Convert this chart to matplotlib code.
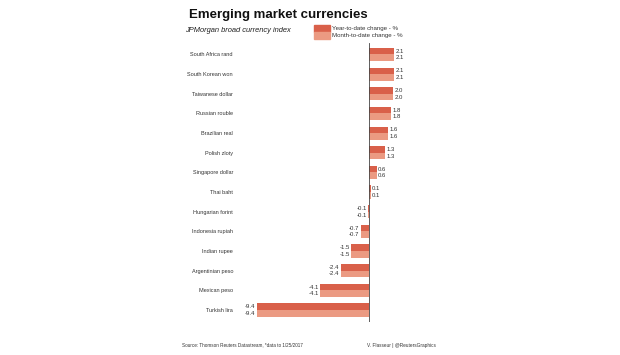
import matplotlib.pyplot as plt
import numpy as np

currencies = ["South Africa rand", "South Korean won", "Taiwanese dollar",
              "Russian rouble", "Brazilian real", "Polish zloty",
              "Singapore dollar", "Thai baht", "Hungarian forint",
              "Indonesia rupiah", "Indian rupee", "Argentinian peso",
              "Mexican peso", "Turkish lira"]
ytd = [2.1, 2.1, 2.0, 1.8, 1.6, 1.3, 0.6, 0.1, -0.1, -0.7, -1.5, -2.4, -4.1, -9.4]
mtd = [2.1, 2.1, 2.0, 1.8, 1.6, 1.3, 0.6, 0.1, -0.1, -0.7, -1.5, -2.4, -4.1, -9.4]

dark = '#d9604a'
light = '#eb9a82'
plt.rcParams['font.family'] = ['Liberation Sans', 'DejaVu Sans']

W, H = 620, 355
fig = plt.figure(figsize=(6.2, 3.55), dpi=100)
fig.patch.set_facecolor('white')

# axes placed in pixel terms: left 233, right 440, top 43, bottom 322
ax = fig.add_axes([233 / W, 1 - 322 / H, (440 - 233) / W, (322 - 43) / H])
ax.set_xlim(-11.38, 5.90)
ax.set_ylim(13.61, -0.585)

y = np.arange(len(currencies))
h = 0.335
ax.barh(y - h / 2, ytd, height=h, color=dark, edgecolor='none')
ax.barh(y + h / 2, mtd, height=h, color=light, edgecolor='none')
ax.axvline(0, color='#444444', lw=0.6)

for i in range(len(currencies)):
    for v, off in ((ytd[i], -h / 2), (mtd[i], h / 2)):
        if v >= 0:
            ax.text(v + 0.12, i + off, f"{v:.1f}", ha='left', va='center', fontsize=4.3, color='#333333')
        else:
            ax.text(v - 0.12, i + off, f"{v:.1f}", ha='right', va='center', fontsize=4.3, color='#333333')

ax.set_yticks(y)
ax.set_yticklabels(currencies, fontsize=3.95, color='#333333')
ax.tick_params(axis='y', length=0, pad=0)
ax.set_xticks([])
for s in ax.spines.values():
    s.set_visible(False)

fig.text(189 / W, 1 - 15 / H, "Emerging market currencies", fontsize=9.5, fontweight='bold',
         ha='left', va='center', color='#111111')
fig.text(185 / W, 1 - 30 / H, "JPMorgan broad currency index", fontsize=5.4, style='italic',
         ha='left', va='center', color='#222222')

# legend
fig.patches.append(plt.Rectangle((314 / W, 1 - 32 / H), 16 / W, 7 / H, transform=fig.transFigure,
                                 color=dark, figure=fig))
fig.patches.append(plt.Rectangle((314 / W, 1 - 39 / H), 16 / W, 7 / H, transform=fig.transFigure,
                                 color=light, figure=fig))
fig.text(332 / W, 1 - 28.5 / H, "Year-to-date change - %", fontsize=4.45, ha='left', va='center', color='#333333')
fig.text(332 / W, 1 - 35.5 / H, "Month-to-date change - %", fontsize=4.45, ha='left', va='center', color='#333333')

fig.text(182 / W, 1 - 345 / H, "Source: Thomson Reuters Datastream, *data to 1/25/2017", fontsize=3.35,
         ha='left', va='center', color='#333333')
fig.text(367 / W, 1 - 345 / H, "V. Flasseur | @ReutersGraphics", fontsize=3.45,
         ha='left', va='center', color='#333333')

fig.savefig('out.png', dpi=100, facecolor='white')
